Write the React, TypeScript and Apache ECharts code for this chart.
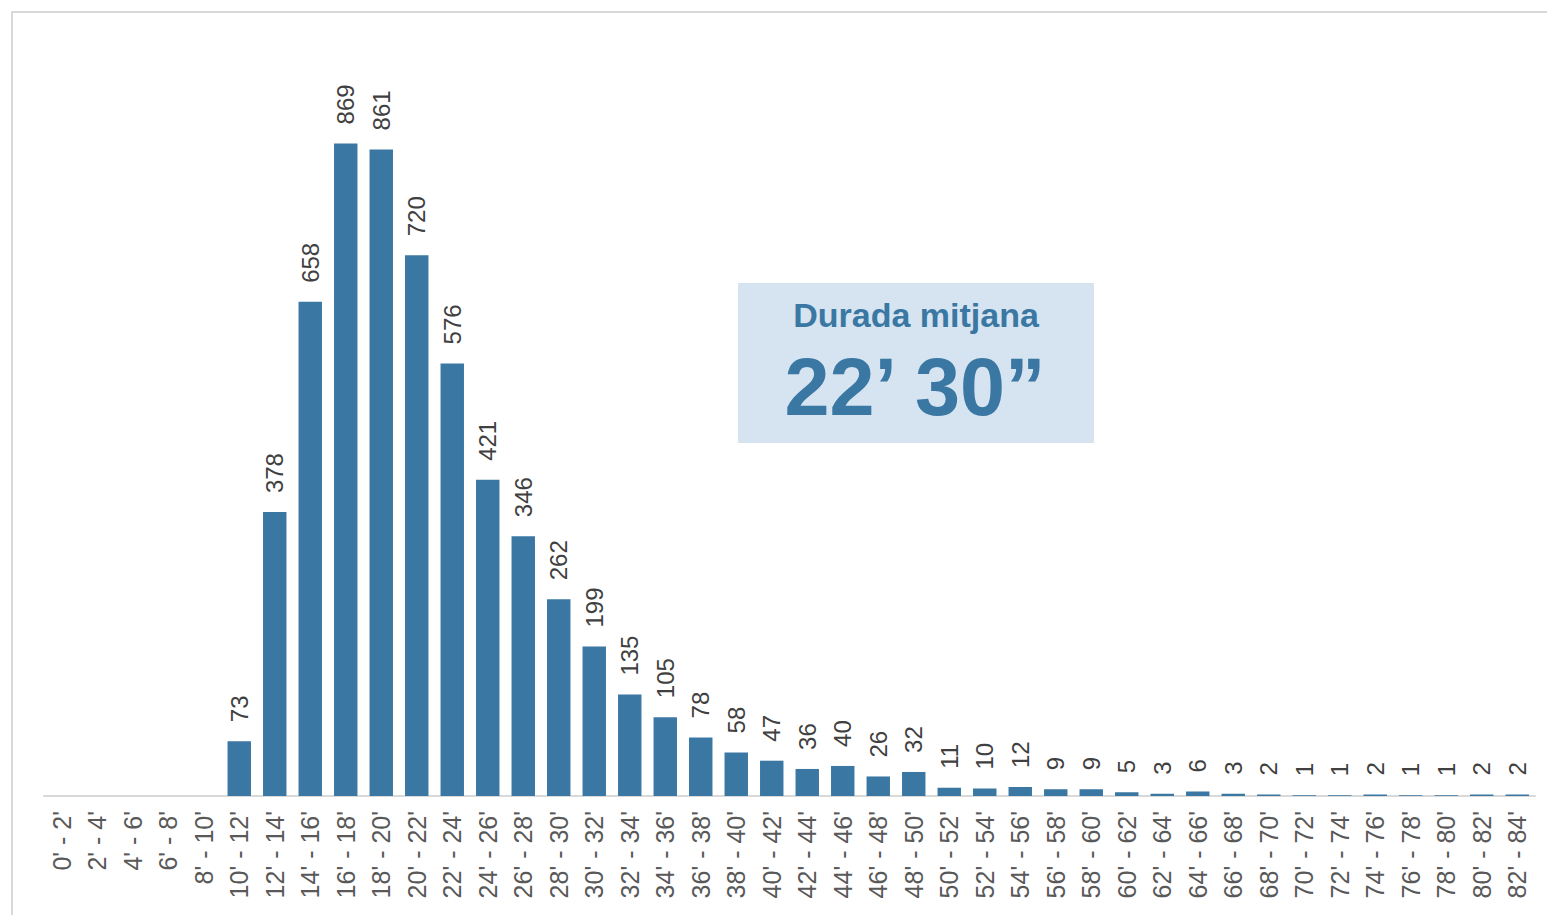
import React, { useEffect, useRef } from "react";
import * as echarts from "echarts";

const categories = [
  "0' - 2'", "2' - 4'", "4' - 6'", "6' - 8'", "8' - 10'", "10' - 12'", "12' - 14'", "14' - 16'",
  "16' - 18'", "18' - 20'", "20' - 22'", "22' - 24'", "24' - 26'", "26' - 28'", "28' - 30'",
  "30' - 32'", "32' - 34'", "34' - 36'", "36' - 38'", "38' - 40'", "40' - 42'", "42' - 44'",
  "44' - 46'", "46' - 48'", "48' - 50'", "50' - 52'", "52' - 54'", "54' - 56'", "56' - 58'",
  "58' - 60'", "60' - 62'", "62' - 64'", "64' - 66'", "66' - 68'", "68' - 70'", "70' - 72'",
  "72' - 74'", "74' - 76'", "76' - 78'", "78' - 80'", "80' - 82'", "82' - 84'",
];

const counts = [
  0, 0, 0, 0, 0, 73, 378, 658, 869, 861, 720, 576, 421, 346, 262, 199, 135, 105, 78, 58, 47,
  36, 40, 26, 32, 11, 10, 12, 9, 9, 5, 3, 6, 3, 2, 1, 1, 2, 1, 1, 2, 2,
];

const boxTitle = "Durada mitjana";
const boxValue = "22’ 30”";

const BLUE = "#3a77a3";
const FONT = "'Liberation Sans', Arial, Helvetica, sans-serif";

export default function App() {
  const ref = useRef<HTMLDivElement>(null);
  useEffect(() => {
    if (!ref.current) return;
    const chart = echarts.init(ref.current, undefined, { renderer: "svg" });
    chart.setOption({
      animation: false,
      backgroundColor: "#ffffff",
      textStyle: { fontFamily: FONT },
      grid: { left: 44, right: 12, top: 45, bottom: 119, containLabel: false },
      xAxis: {
        type: "category",
        data: categories,
        axisLine: { show: true, lineStyle: { color: "#d9d9d9", width: 2 } },
        axisTick: { show: false },
        axisLabel: {
          interval: 0,
          rotate: 90,
          margin: 15,
          color: "#595959",
          fontSize: 25,
          fontFamily: FONT,
        },
      },
      yAxis: {
        type: "value",
        min: 0,
        max: 1000,
        show: false,
        splitLine: { show: false },
      },
      series: [
        {
          type: "bar",
          data: counts,
          barWidth: "66%",
          itemStyle: { color: BLUE },
          label: {
            show: true,
            position: "top",
            rotate: 90,
            align: "left",
            verticalAlign: "middle",
            distance: 19,
            color: "#404040",
            fontSize: 24,
            fontFamily: FONT,
            formatter: (p: any) => (p.value > 0 ? String(p.value) : ""),
          },
        },
      ],
      graphic: [
        {
          type: "rect",
          shape: { x: 12, y: 12, width: 1600, height: 1000 },
          style: { fill: "none", stroke: "#d9d9d9", lineWidth: 2 },
          silent: true,
        },
        {
          type: "rect",
          shape: { x: 738, y: 283, width: 356, height: 160 },
          style: { fill: "#d5e4f0" },
          silent: true,
        },
        {
          type: "text",
          x: 916,
          y: 315,
          style: {
            text: boxTitle,
            fill: BLUE,
            font: `bold 34px ${FONT}`,
            textAlign: "center",
            textVerticalAlign: "middle",
          },
        },
        {
          type: "text",
          x: 915,
          y: 387,
          style: {
            text: boxValue,
            fill: BLUE,
            font: `bold 81px ${FONT}`,
            textAlign: "center",
            textVerticalAlign: "middle",
          },
        },
      ],
    });
    return () => chart.dispose();
  }, []);
  return (
    <div
      ref={ref}
      style={{ position: "fixed", left: 0, top: 0, width: 1547, height: 915 }}
    />
  );
}
